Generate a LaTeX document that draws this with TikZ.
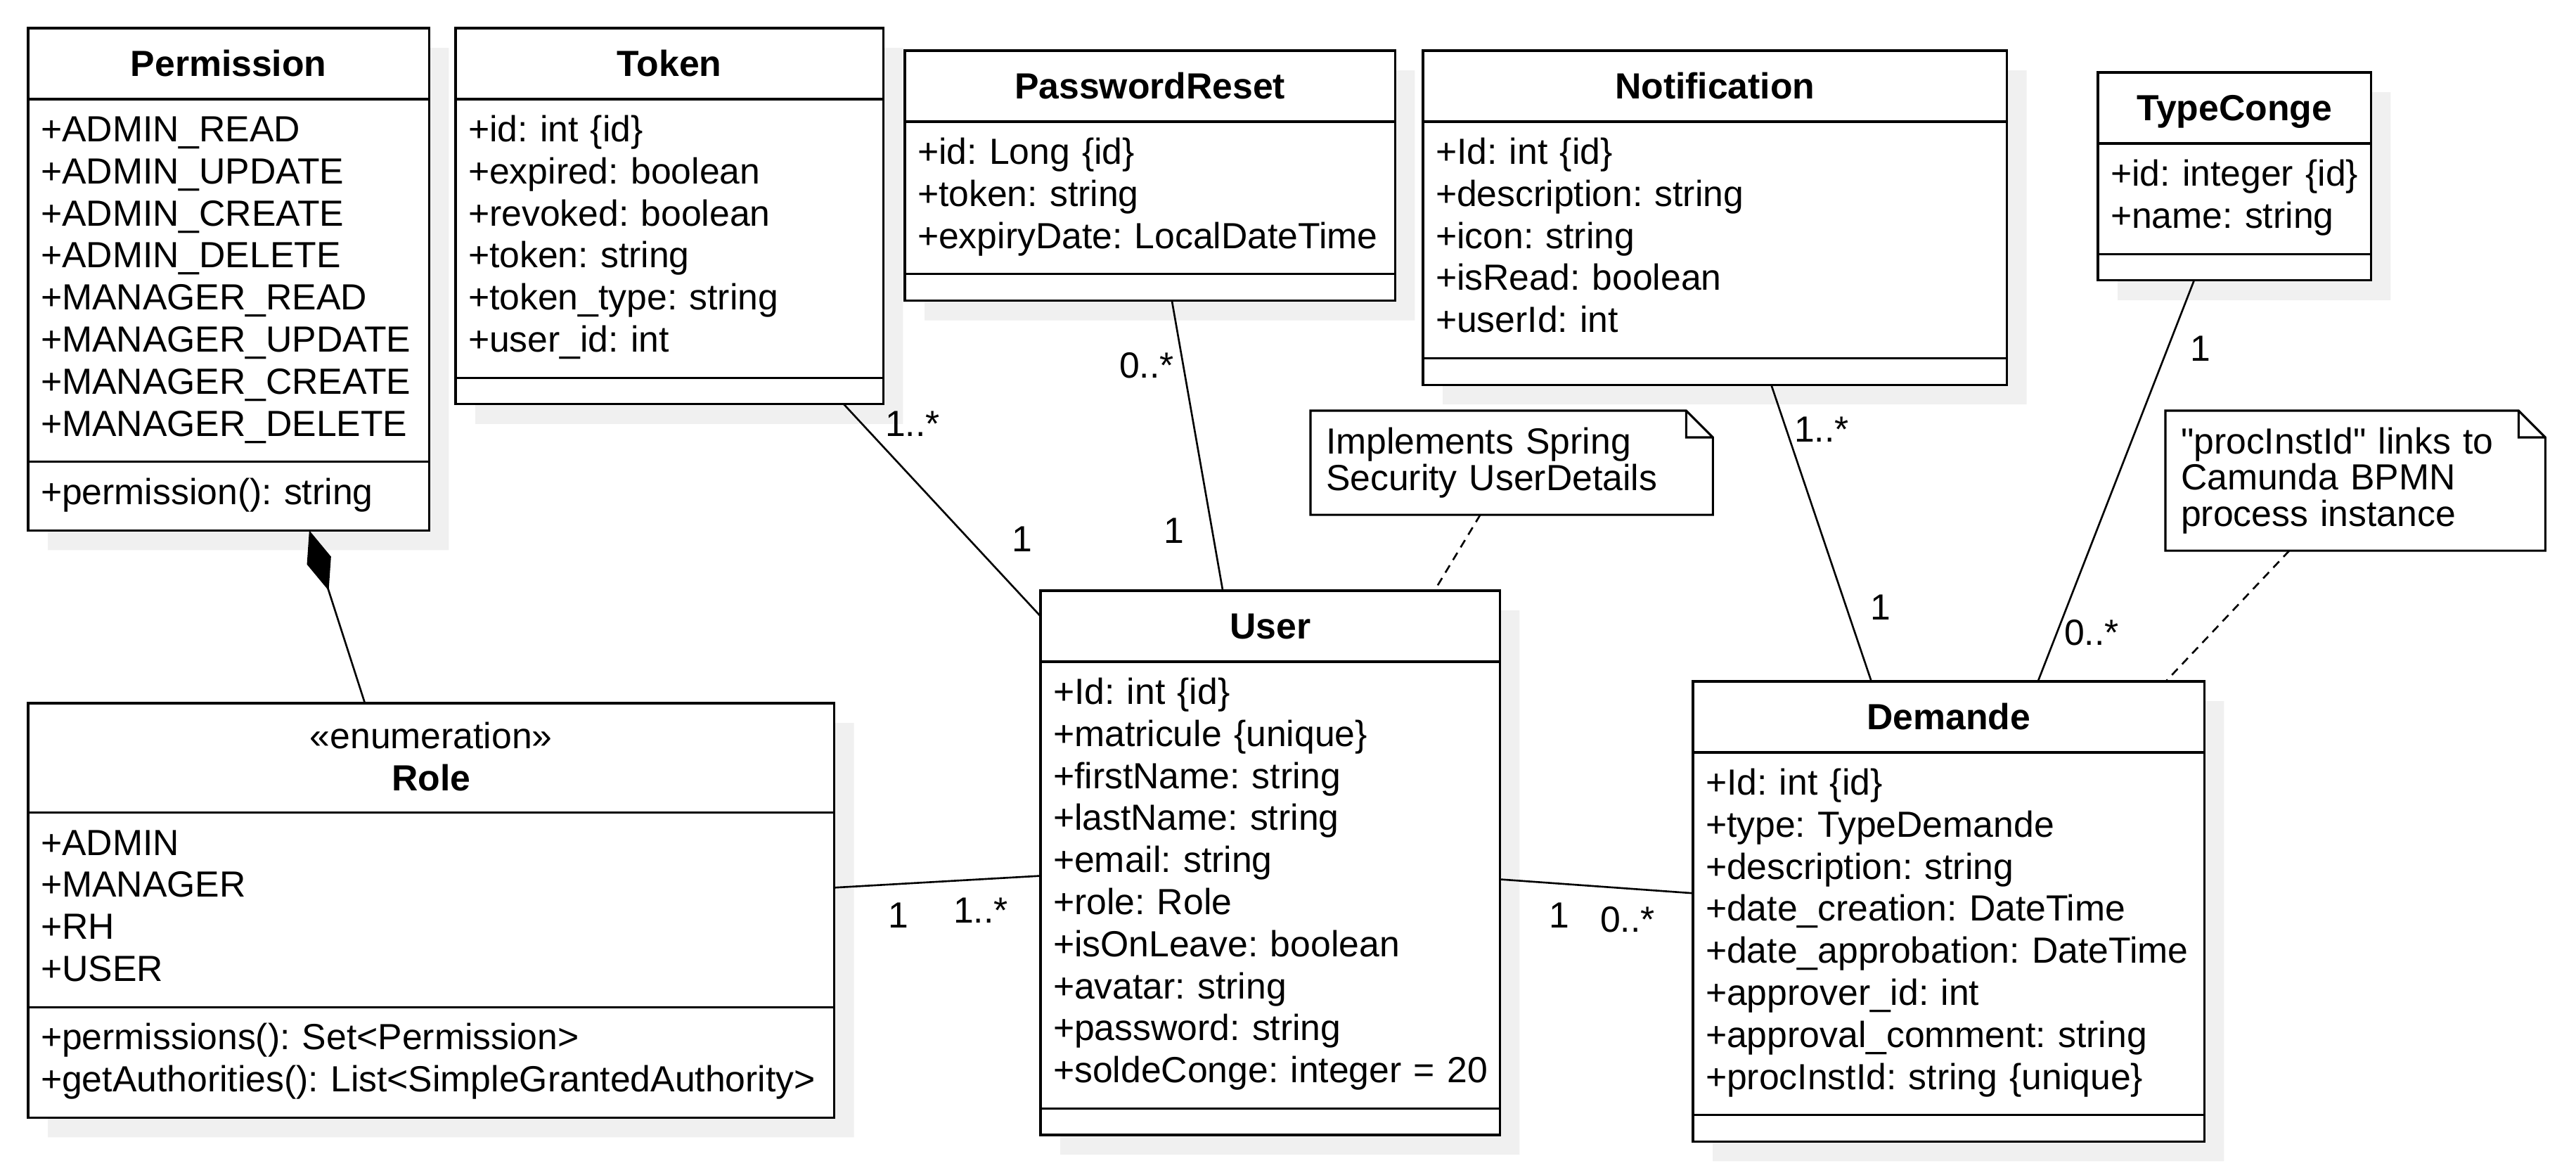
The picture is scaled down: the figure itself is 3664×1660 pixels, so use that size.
\documentclass[tikz,border=0pt]{standalone}
\usepackage{fontspec}
\setmainfont{Liberation Sans}
\usetikzlibrary{shapes.multipart,shadows,arrows.meta,calc}
\frenchspacing
\hyphenpenalty=10000
\newcommand{\tstrut}{\rule[-4pt]{0pt}{18pt}}

\begin{document}
\begin{tikzpicture}[x=0.01cm,y=-0.01cm,
    every node/.style={font=\fontsize{14.7}{17}\selectfont},
    umlclass/.style={rectangle split,rectangle split parts=3,draw,fill=white,
      line width=0.9pt,anchor=north west,outer sep=0pt,align=left,
      inner xsep=0.18cm,inner ysep=4.9pt,
      drop shadow={shadow xshift=0.28cm,shadow yshift=-0.28cm,opacity=1,fill=black!6}},
    umlnote/.style={anchor=north west,outer sep=0pt,align=left,inner xsep=0.22cm,
      font=\fontsize{14.7}{14.6}\selectfont},
    link/.style={line width=0.75pt},
    mult/.style={inner sep=0pt}]
  \useasboundingbox (0,0) rectangle (3664,1660);

  % classes
  \node[umlclass,text width=5.34cm] (Perm) at (40,40)
    {\centering\tstrut\textbf{Permission}\par
     \nodepart{two}\strut+ADMIN\_READ\\+ADMIN\_UPDATE\\+ADMIN\_CREATE\\+ADMIN\_DELETE\\
     +MANAGER\_READ\\+MANAGER\_UPDATE\\+MANAGER\_CREATE\\+MANAGER\_DELETE\strut
     \nodepart{three}\strut+permission(): string\strut};
  \node[umlclass,text width=5.72cm] (Tok) at (648,40)
    {\centering\tstrut\textbf{Token}\par
     \nodepart{two}\strut+id: int \{id\}\\+expired: boolean\\+revoked: boolean\\
     +token: string\\+token\_type: string\\+user\_id: int\strut
     \nodepart{three}};
  \node[umlclass,text width=6.61cm] (PwReset) at (1287,72)
    {\centering\tstrut\textbf{PasswordReset}\par
     \nodepart{two}\strut+id: Long \{id\}\\+token: string\\
     \mbox{+expiryDate: LocalDateTime}\strut
     \nodepart{three}};
  \node[umlclass,text width=7.94cm] (Notif) at (2024,72)
    {\centering\tstrut\textbf{Notification}\par
     \nodepart{two}\strut+Id: int \{id\}\\+description: string\\+icon: string\\
     +isRead: boolean\\+userId: int\strut
     \nodepart{three}};
  \node[umlclass,text width=3.52cm] (TypeC) at (2984,103)
    {\centering\tstrut\textbf{TypeConge}\par
     \nodepart{two}\strut\mbox{+id: integer \{id\}}\\+name: string\strut
     \nodepart{three}};
  \node[umlclass,text width=11.10cm] (Role) at (40,1000)
    {\centering\rule{0pt}{13pt}«enumeration»\par
     \textbf{Role}\rule[-3.5pt]{0pt}{0pt}\par
     \nodepart{two}\strut+ADMIN\\+MANAGER\\+RH\\+USER\strut
     \nodepart{three}\strut+permissions(): Set<Permission>\\
     \mbox{+getAuthorities(): List<SimpleGrantedAuthority>}\strut};
  \node[umlclass,text width=6.17cm] (User) at (1480,840)
    {\centering\tstrut\textbf{User}\par
     \nodepart{two}\strut+Id: int \{id\}\\+matricule \{unique\}\\+firstName: string\\
     +lastName: string\\+email: string\\+role: Role\\+isOnLeave: boolean\\
     +avatar: string\\+password: string\\\mbox{+soldeConge: integer = 20}\strut
     \nodepart{three}};
  \node[umlclass,text width=6.91cm] (Demande) at (2408,969)
    {\centering\tstrut\textbf{Demande}\par
     \nodepart{two}\strut+Id: int \{id\}\\+type: TypeDemande\\+description: string\\
     +date\_creation: DateTime\\\mbox{+date\_approbation: DateTime}\\+approver\_id: int\\
     +approval\_comment: string\\+procInstId: string \{unique\}\strut
     \nodepart{three}};

  % notes
  \node[umlnote,text width=5.28cm,minimum height=1.48cm] (NoteUser) at (1864,584)
    {Implements Spring\\Security UserDetails};
  \node[umlnote,text width=4.96cm,minimum height=1.99cm] (NoteDem) at (3080,584)
    {\textquotedbl procInstId\textquotedbl{} links to\\Camunda BPMN\\process instance};
  \foreach \n in {NoteUser,NoteDem}
    \draw[line width=0.9pt] (\n.north west) -- ($(\n.north east)+(-38,0)$)
      -- ($(\n.north east)+(0,38)$) -- (\n.south east) -- (\n.south west) -- cycle
      ($(\n.north east)+(-38,0)$) |- ($(\n.north east)+(0,38)$);

  % associations
  \draw[link,{Diamond[length=0.9cm,width=0.36cm]}-] (Perm) -- (Role);
  \draw[link] (Tok) -- (User);
  \draw[link] (PwReset) -- (User);
  \draw[link] (Role) -- (User);
  \draw[link] (User) -- (Demande);
  \draw[link] (Notif) -- (Demande);
  \draw[link] (TypeC) -- (Demande);
  \draw[link,dash pattern=on 0.12cm off 0.09cm] (NoteUser) -- (User);
  \draw[link,dash pattern=on 0.12cm off 0.09cm] (NoteDem) -- (Demande);

  % multiplicities
  \node[mult] (TokMany) at (1298,603) {1..*};
  \node[mult] (TokOne) at (1454,767) {1};
  \node[mult] (PwMany) at (1631,520) {0..*};
  \node[mult] (PwOne) at (1670,755) {1};
  \node[mult] (RoleOne) at (1278,1302) {1};
  \node[mult] (RoleMany) at (1395,1295) {1..*};
  \node[mult] (DemOne) at (2218,1302) {1};
  \node[mult] (DemMany) at (2315,1308) {0..*};
  \node[mult] (NotifMany) at (2591,611) {1..*};
  \node[mult] (NotifOne) at (2675,864) {1};
  \node[mult] (TypeOne) at (3130,496) {1};
  \node[mult] (TypeMany) at (2975,900) {0..*};
\end{tikzpicture}
\end{document}
